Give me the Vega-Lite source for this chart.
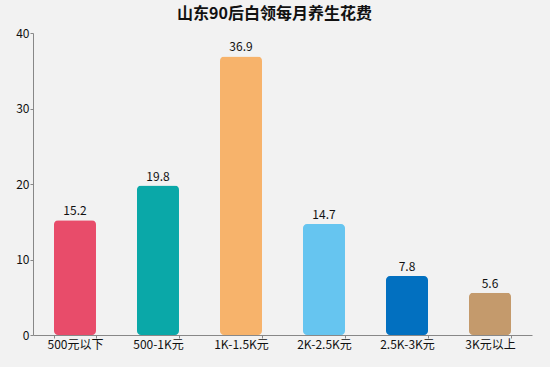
{
  "$schema": "https://vega.github.io/schema/vega-lite/v6.json",
  "width": 499,
  "height": 302,
  "autosize": {"type": "none"},
  "padding": {"left": 33, "top": 33, "right": 18, "bottom": 32},
  "background": "#f2f2f2",
  "title": {
    "text": "山东90后白领每月养生花费",
    "font": "Noto Sans CJK SC",
    "fontSize": 16,
    "fontWeight": "bold",
    "color": "#111111",
    "anchor": "middle",
    "offset": 5,
    "dx": -8
  },
  "config": {
    "view": {"stroke": null},
    "font": "Noto Sans CJK SC"
  },
  "data": {
    "values": [
      {"cat": "500元以下", "v": 15.2, "c": "#e84c6a"},
      {"cat": "500-1K元", "v": 19.8, "c": "#0aa8a8"},
      {"cat": "1K-1.5K元", "v": 36.9, "c": "#f7b36b"},
      {"cat": "2K-2.5K元", "v": 14.7, "c": "#66c5f0"},
      {"cat": "2.5K-3K元", "v": 7.8, "c": "#0270c0"},
      {"cat": "3K元以上", "v": 5.6, "c": "#c49a6c"}
    ]
  },
  "encoding": {
    "x": {
      "field": "cat",
      "type": "nominal",
      "sort": null,
      "title": null,
      "scale": {"paddingInner": 0.494, "paddingOuter": 0.253},
      "axis": {
        "labelAngle": 0,
        "labelFontSize": 12,
        "labelColor": "#111111",
        "labelPadding": 1,
        "domainColor": "#888888",
        "tickColor": "#888888",
        "tickBand": "extent",
        "tickSize": 3,
        "labelFont": "Noto Sans CJK SC"
      }
    },
    "y": {
      "field": "v",
      "type": "quantitative",
      "title": null,
      "scale": {"domain": [0, 40], "nice": false},
      "axis": {
        "values": [0, 10, 20, 30, 40],
        "grid": false,
        "labelFontSize": 12,
        "labelColor": "#111111",
        "labelPadding": 1,
        "domainColor": "#888888",
        "tickColor": "#888888",
        "tickSize": 3
      }
    }
  },
  "layer": [
    {
      "mark": {"type": "bar", "cornerRadius": 4},
      "encoding": {
        "color": {"field": "c", "type": "nominal", "scale": null, "legend": null}
      }
    },
    {
      "mark": {"type": "text", "baseline": "bottom", "dy": -2, "fontSize": 12, "color": "#111111"},
      "encoding": {
        "text": {"field": "v", "type": "quantitative", "format": ".1f"}
      }
    }
  ]
}
